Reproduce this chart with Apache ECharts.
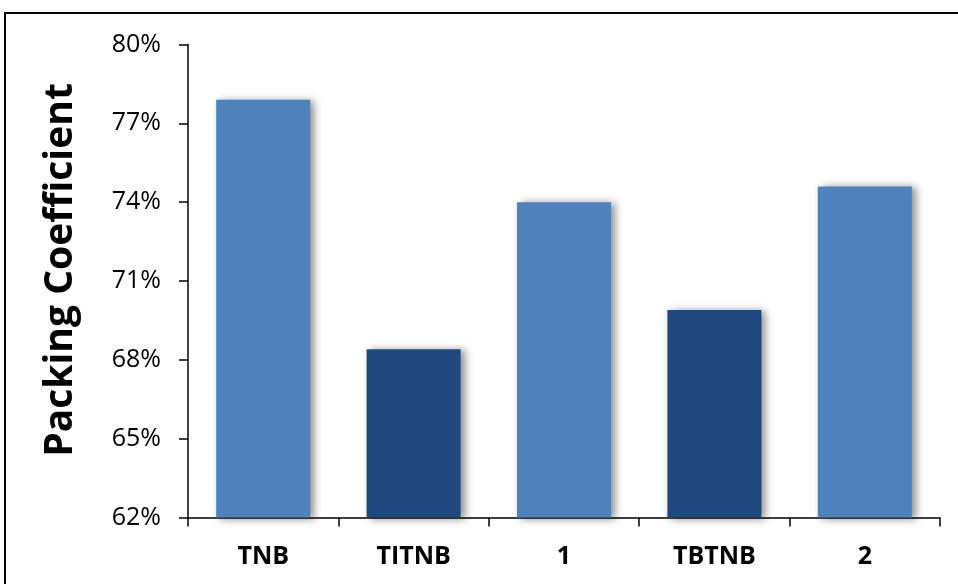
<!DOCTYPE html>
<html>
<head>
<meta charset="utf-8">
<script src="https://cdn.jsdelivr.net/npm/echarts@6/dist/echarts.min.js"></script>
<style>
  html, body { margin: 0; padding: 0; background: #fff; }
  #chart { width: 958px; height: 584px; }
</style>
</head>
<body>
<div id="chart"></div>
<script>
// Packing coefficients of the compounds (percent)
const categories = ['TNB', 'TITNB', '1', 'TBTNB', '2'];
const packingCoefficient = [77.9, 68.4, 74.0, 69.9, 74.6];
const yTicks = { min: 62, max: 80, step: 3 };

// Fill per bar: light blue for TNB and the new compounds, dark blue for the others
const barColors = ['#4F81BD', '#1F497D', '#4F81BD', '#1F497D', '#4F81BD'];

const chart = echarts.init(document.getElementById('chart'));
const FONT = '"Open Sans", "Liberation Sans", sans-serif';

chart.setOption({
  animation: false,
  backgroundColor: '#fff',
  graphic: [{
    type: 'rect',
    shape: { x: 5, y: 13, width: 1000, height: 620 },
    style: { fill: 'none', stroke: '#000', lineWidth: 2 },
    silent: true
  }],
  grid: { left: 188, right: 18, top: 44.5, bottom: 66.5 },
  xAxis: {
    type: 'category',
    data: categories,
    axisLine: { lineStyle: { color: '#000', width: 1.5 } },
    axisTick: { show: true, length: 9, lineStyle: { color: '#000', width: 1.5 } },
    axisLabel: { color: '#000', fontFamily: FONT, fontWeight: 'bold', fontSize: 25, margin: 27 },
    splitLine: { show: false }
  },
  yAxis: {
    type: 'value',
    min: yTicks.min,
    max: yTicks.max,
    interval: yTicks.step,
    name: 'Packing Coefficient',
    nameLocation: 'middle',
    nameGap: 108,
    nameTextStyle: { color: '#000', fontFamily: FONT, fontWeight: 'bold', fontSize: 39, padding: [0, 0, 0, 22] },
    axisLine: { show: true, lineStyle: { color: '#000', width: 1.5 } },
    axisTick: { show: true, length: 9, lineStyle: { color: '#000', width: 1.5 } },
    axisLabel: { color: '#000', fontFamily: FONT, fontSize: 25, margin: 27, formatter: '{value}%' },
    splitLine: { show: false }
  },
  series: [{
    type: 'bar',
    data: packingCoefficient,
    barWidth: '62.5%',
    itemStyle: {
      color: p => barColors[p.dataIndex],
      shadowColor: 'rgba(0,0,0,0.45)',
      shadowBlur: 8,
      shadowOffsetX: 4,
      shadowOffsetY: 1
    }
  }]
});
</script>
</body>
</html>
